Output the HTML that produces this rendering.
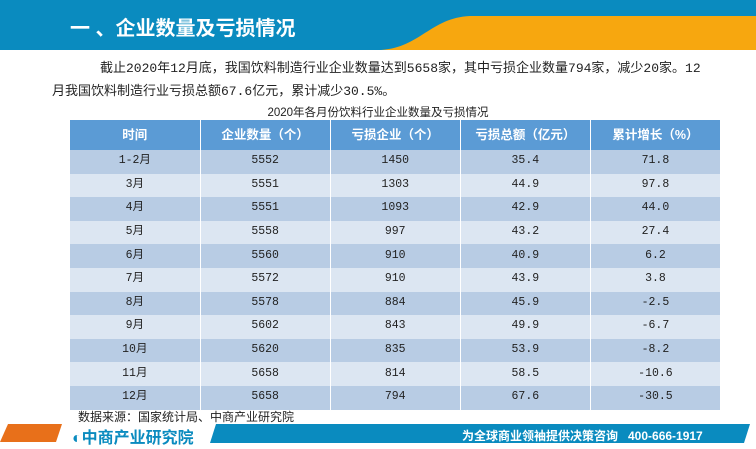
<!DOCTYPE html>
<html><head><meta charset="utf-8"><style>
body{margin:0;width:756px;height:449px;overflow:hidden;background:#fff;font-family:"Liberation Sans","Noto Sans CJK SC",sans-serif;position:relative}
.abs{position:absolute}
table{position:absolute;left:70px;top:120px;width:651px;border-collapse:collapse;table-layout:fixed}
td,th{text-align:center;vertical-align:middle;font-size:11.5px;line-height:14px;padding:0;border-right:1px solid #fff;color:#222;font-family:"Liberation Mono","Noto Sans CJK SC",monospace}
th{height:30px;background:#5b9bd5;color:#fff;font-weight:bold;font-family:"Liberation Sans","Noto Sans CJK SC",sans-serif;font-size:12.5px}
td{height:23.6px}
td span{display:inline-block;line-height:14px;vertical-align:middle}
tr.a td{background:#b8cce4}tr.b td{background:#dce6f2}
</style></head><body>
<svg class="abs" style="left:0;top:0" width="756" height="52">
<rect x="0" y="0" width="756" height="50" fill="#0a8bbf"/>
<path d="M380,50 C420,48 430,18 470,16 L756,16 L756,50 Z" fill="#f7a70f"/>
</svg>
<div class="abs" style="left:70px;top:12px;color:#fff;font-size:20px;font-weight:bold">一 、企业数量及亏损情况</div>
<div class="abs" style="left:52px;top:57px;width:660px;font-size:13px;line-height:23px;color:#222;text-indent:48px;font-family:'Liberation Mono','Noto Sans CJK SC',monospace">截止2020年12月底，我国饮料制造行业企业数量达到5658家，其中亏损企业数量794家，减少20家。12月我国饮料制造行业亏损总额67.6亿元，累计减少30.5%。</div>
<div class="abs" style="left:0;width:756px;top:104px;text-align:center;font-size:11.5px;color:#222">2020年各月份饮料行业企业数量及亏损情况</div>
<table>
<tr><th>时间</th><th>企业数量（个）</th><th>亏损企业（个）</th><th>亏损总额（亿元）</th><th>累计增长（%）</th></tr>
<tbody id="tb"></tbody>
</table>
<div class="abs" style="left:78px;top:408px;font-size:12px;color:#222">数据来源：国家统计局、中商产业研究院</div>
<svg class="abs" style="left:0;top:420px" width="756" height="29">
<path d="M8,4 L62,4 L56,22 L0,22 Z" fill="#e8701a"/>
<path d="M216,4 L750,4 L744,23 L210,23 Z" fill="#0a8bbf"/>
</svg>
<div class="abs" style="left:72px;top:424px;font-size:16px;font-weight:bold;color:#0a8bbf">◐中商产业研究院</div>
<div class="abs" style="left:462px;top:427px;font-size:12px;font-weight:bold;color:#fff">为全球商业领袖提供决策咨询&nbsp;&nbsp;&nbsp;400-666-1917</div>
<script>
const months=["1-2月","3月","4月","5月","6月","7月","8月","9月","10月","11月","12月"];
const firms=[5552,5551,5551,5558,5560,5572,5578,5602,5620,5658,5658];
const lossFirms=[1450,1303,1093,997,910,910,884,843,835,814,794];
const lossTotal=["35.4","44.9","42.9","43.2","40.9","43.9","45.9","49.9","53.9","58.5","67.6"];
const growth=["71.8","97.8","44.0","27.4","6.2","3.8","-2.5","-6.7","-8.2","-10.6","-30.5"];
const tb=document.getElementById('tb');
months.forEach((m,i)=>{
const tr=document.createElement('tr');
tr.className=i%2?'b':'a';


[m,firms[i],lossFirms[i],lossTotal[i],growth[i]].forEach(v=>{const td=document.createElement('td');const s=document.createElement('span');s.textContent=v;td.appendChild(s);tr.appendChild(td);});
tb.appendChild(tr);
});
</script>
</body></html>
